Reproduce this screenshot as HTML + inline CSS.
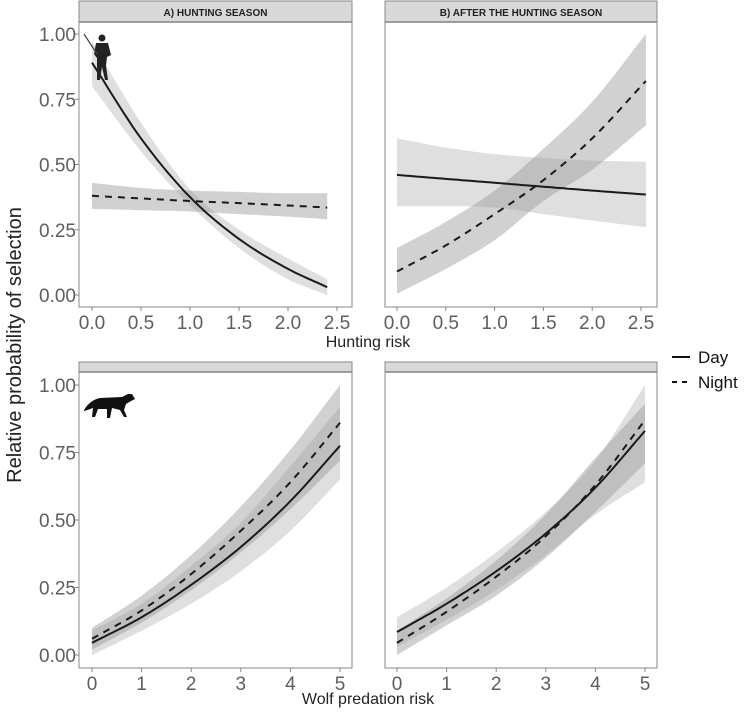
<!DOCTYPE html>
<html><head><meta charset="utf-8"><style>
body{margin:0;background:#fff;}
text{font-family:"Liberation Sans",sans-serif;}
</style></head><body>
<svg id="c" width="751" height="712" xmlns="http://www.w3.org/2000/svg"></svg>
<script>
// Hunting season (panel A)
const xA = [0, 0.5, 1.0, 1.5, 2.0, 2.4];
const dayA = [0.89, 0.60, 0.375, 0.215, 0.10, 0.03];
const dayALo = [0.80, 0.55, 0.345, 0.18, 0.06, 0.0];
const dayAHi = [0.97, 0.66, 0.405, 0.25, 0.14, 0.06];
const nightA = [0.38, 0.37, 0.36, 0.352, 0.343, 0.335];
const nightALo = [0.33, 0.325, 0.32, 0.31, 0.30, 0.29];
const nightAHi = [0.43, 0.41, 0.40, 0.395, 0.39, 0.39];
// After hunting season (panel B)
const xB = [0, 0.5, 1.0, 1.5, 2.0, 2.55];
const dayB = [0.46, 0.445, 0.43, 0.415, 0.40, 0.385];
const dayBLo = [0.34, 0.34, 0.335, 0.31, 0.285, 0.26];
const dayBHi = [0.60, 0.565, 0.54, 0.525, 0.515, 0.51];
const nightB = [0.09, 0.19, 0.31, 0.44, 0.60, 0.82];
const nightBLo = [0.005, 0.10, 0.21, 0.36, 0.48, 0.65];
const nightBHi = [0.18, 0.28, 0.40, 0.56, 0.74, 1.0];
// Wolf predation, hunting season (panel C)
const xW = [0, 1, 2, 3, 4, 5];
const dayC = [0.045, 0.14, 0.26, 0.40, 0.57, 0.775];
const dayCLo = [0.0, 0.09, 0.19, 0.31, 0.46, 0.65];
const dayCHi = [0.09, 0.19, 0.33, 0.49, 0.70, 0.92];
const nightC = [0.06, 0.165, 0.30, 0.46, 0.64, 0.86];
const nightCLo = [0.02, 0.12, 0.24, 0.38, 0.54, 0.72];
const nightCHi = [0.10, 0.22, 0.37, 0.55, 0.76, 1.0];
// Wolf predation, after hunting season (panel D)
const dayD = [0.085, 0.19, 0.31, 0.45, 0.62, 0.83];
const dayDLo = [0.03, 0.13, 0.24, 0.37, 0.52, 0.64];
const dayDHi = [0.14, 0.25, 0.38, 0.53, 0.72, 1.0];
const nightD = [0.045, 0.16, 0.29, 0.44, 0.63, 0.87];
const nightDLo = [0.0, 0.11, 0.22, 0.36, 0.53, 0.71];
const nightDHi = [0.09, 0.21, 0.35, 0.52, 0.73, 0.93];
const yTicks = [0, 0.25, 0.5, 0.75, 1.0];
const yTickLabels = ["0.00", "0.25", "0.50", "0.75", "1.00"];
const xTicksH = [0, 0.5, 1.0, 1.5, 2.0, 2.5];
const xTickLabelsH = ["0.0", "0.5", "1.0", "1.5", "2.0", "2.5"];
const xTicksW = [0, 1, 2, 3, 4, 5];
const xTickLabelsW = ["0", "1", "2", "3", "4", "5"];

const svg = document.getElementById('c');
const NS = 'http://www.w3.org/2000/svg';
function mk(tag, at, parent) {
  const e = document.createElementNS(NS, tag);
  for (const k in at) e.setAttribute(k, at[k]);
  (parent || svg).appendChild(e);
  return e;
}
function pathFrom(xs, ys, sx, sy) {
  return xs.map((x, i) => (i ? 'L' : 'M') + sx(x).toFixed(1) + ',' + sy(ys[i]).toFixed(1)).join('');
}
// monotone cubic (Fritsch-Carlson) resampling for smooth drawing
function smooth(xs, ys, n) {
  const m = xs.length, d = [], t = [];
  for (let i = 0; i < m - 1; i++) d.push((ys[i + 1] - ys[i]) / (xs[i + 1] - xs[i]));
  t[0] = d[0]; t[m - 1] = d[m - 2];
  for (let i = 1; i < m - 1; i++) t[i] = (d[i - 1] * d[i] <= 0) ? 0 : (d[i - 1] + d[i]) / 2;
  for (let i = 0; i < m - 1; i++) {
    if (d[i] === 0) { t[i] = 0; t[i + 1] = 0; continue; }
    const a = t[i] / d[i], b = t[i + 1] / d[i], s = a * a + b * b;
    if (s > 9) { const k = 3 / Math.sqrt(s); t[i] = k * a * d[i]; t[i + 1] = k * b * d[i]; }
  }
  const ox = [], oy = [];
  for (let i = 0; i < m - 1; i++) {
    const h = xs[i + 1] - xs[i];
    for (let k = 0; k < n; k++) {
      const u = k / n, u2 = u * u, u3 = u2 * u;
      oy.push((2 * u3 - 3 * u2 + 1) * ys[i] + (u3 - 2 * u2 + u) * h * t[i] + (-2 * u3 + 3 * u2) * ys[i + 1] + (u3 - u2) * h * t[i + 1]);
      ox.push(xs[i] + h * u);
    }
  }
  ox.push(xs[m - 1]); oy.push(ys[m - 1]);
  return [ox, oy];
}

function panel(cfg) {
  const g = mk('g', {});
  
  
  const sx = v => cfg.x0 + v * (cfg.x1 - cfg.x0) / cfg.xmax;
  const sy = v => cfg.y0 - v * (cfg.y0 - cfg.y1);
  const st = mk('rect', {x: cfg.L, y: cfg.sT, width: cfg.R - cfg.L, height: cfg.sB - cfg.sT, fill: '#d9d9d9', stroke: '#8a8a8a', 'stroke-width': 1}, g);
  
  
  mk('line', {x1: cfg.L, x2: cfg.R, y1: cfg.sB, y2: cfg.sB, stroke: '#777', 'stroke-width': 1.5}, g);
  if (cfg.title) {
    const t = mk('text', {x: (cfg.L + cfg.R) / 2, y: cfg.sT + 15, 'text-anchor': 'middle', 'font-size': 10, 'font-weight': 'bold', fill: '#222'}, g);
    t.textContent = cfg.title;
    
    
  }
  cfg.series.forEach(s => {
    const [lx, lo] = smooth(s.x, s.lo, 12), [hx, hi] = smooth(s.x, s.hi, 12);
    const d = pathFrom(hx, hi, sx, sy) + pathFrom(lx.slice().reverse(), lo.slice().reverse(), sx, sy).replace('M', 'L') + 'Z';
    const r = mk('path', {d: d, fill: s.fill, 'fill-opacity': 0.45}, g);
    
    
  });
  cfg.series.forEach(s => {
    const [mx, my] = smooth(s.x, s.y, 12);
    const l = mk('path', {d: pathFrom(mx, my, sx, sy), fill: 'none', stroke: '#1a1a1a', 'stroke-width': 2, 'stroke-dasharray': s.dash ? '7,6' : 'none'}, g);
    
    
  });
  mk('rect', {x: cfg.L, y: cfg.sB, width: cfg.R - cfg.L, height: cfg.B - cfg.sB, fill: 'none', stroke: '#8a8a8a', 'stroke-width': 1}, g);
  cfg.xt.forEach((v, i) => {
    mk('line', {x1: sx(v), x2: sx(v), y1: cfg.B, y2: cfg.B + 4, stroke: '#888'}, g);
    const t = mk('text', {x: sx(v), y: cfg.B + 22, 'text-anchor': 'middle', 'font-size': 19, fill: '#5e5e5e'}, g);
    t.textContent = cfg.xl[i];
    
    
  });
  if (cfg.yaxis) {
    yTicks.forEach((v, i) => {
      mk('line', {x1: cfg.L - 4, x2: cfg.L, y1: sy(v), y2: sy(v), stroke: '#888'}, g);
      const t = mk('text', {x: cfg.L - 3, y: sy(v) + 7, 'text-anchor': 'end', 'font-size': 19, fill: '#5e5e5e'}, g);
      t.textContent = yTickLabels[i];
      
      
    });
  }
}

const light = '#b8b8b8', dark = '#9a9a9a';
panel({name: 'panel-hunting-season', L: 79, R: 352, sT: 1, sB: 22, B: 307, x0: 92, x1: 337, xmax: 2.5, y0: 295, y1: 34,
  title: 'A) HUNTING SEASON', yaxis: true, xt: xTicksH, xl: xTickLabelsH,
  series: [{label: 'day', x: xA, y: dayA, lo: dayALo, hi: dayAHi, fill: light},
           {label: 'night', x: xA, y: nightA, lo: nightALo, hi: nightAHi, fill: dark, dash: true}]});
panel({name: 'panel-after-hunting', L: 385, R: 657, sT: 1, sB: 22, B: 307, x0: 397, x1: 641, xmax: 2.5, y0: 295, y1: 34,
  title: 'B) AFTER THE HUNTING SEASON', yaxis: false, xt: xTicksH, xl: xTickLabelsH,
  series: [{label: 'day', x: xB, y: dayB, lo: dayBLo, hi: dayBHi, fill: light},
           {label: 'night', x: xB, y: nightB, lo: nightBLo, hi: nightBHi, fill: dark, dash: true}]});
panel({name: 'panel-wolf-hunting', L: 79, R: 352, sT: 362, sB: 372, B: 668, x0: 92, x1: 340, xmax: 5, y0: 655, y1: 385,
  title: '', yaxis: true, xt: xTicksW, xl: xTickLabelsW,
  series: [{label: 'day', x: xW, y: dayC, lo: dayCLo, hi: dayCHi, fill: light},
           {label: 'night', x: xW, y: nightC, lo: nightCLo, hi: nightCHi, fill: dark, dash: true}]});
panel({name: 'panel-wolf-after', L: 385, R: 657, sT: 362, sB: 372, B: 668, x0: 397, x1: 645, xmax: 5, y0: 655, y1: 385,
  title: '', yaxis: false, xt: xTicksW, xl: xTickLabelsW,
  series: [{label: 'day', x: xW, y: dayD, lo: dayDLo, hi: dayDHi, fill: light},
           {label: 'night', x: xW, y: nightD, lo: nightDLo, hi: nightDHi, fill: dark, dash: true}]});

let t = mk('text', {x: 368, y: 347, 'text-anchor': 'middle', 'font-size': 16, fill: '#222'});
t.textContent = 'Hunting risk';


t = mk('text', {x: 368, y: 704, 'text-anchor': 'middle', 'font-size': 16, fill: '#222'});
t.textContent = 'Wolf predation risk';


t = mk('text', {x: 0, y: 0, 'text-anchor': 'middle', 'font-size': 20, fill: '#222', transform: 'translate(21,345) rotate(-90)'});
t.textContent = 'Relative probability of selection';



const lg = mk('g', {});


mk('line', {x1: 672, x2: 690, y1: 357, y2: 357, stroke: '#111', 'stroke-width': 2}, lg);
mk('line', {x1: 672, x2: 690, y1: 382, y2: 382, stroke: '#111', 'stroke-width': 2, 'stroke-dasharray': '5,5'}, lg);
t = mk('text', {x: 698, y: 363, 'font-size': 17, fill: '#111'}, lg);
t.textContent = 'Day';


t = mk('text', {x: 698, y: 388, 'font-size': 17, fill: '#111'}, lg);
t.textContent = 'Night';



const hunter = mk('g', {fill: '#222'});


mk('circle', {cx: 102, cy: 38, r: 3.5}, hunter);
mk('path', {d: 'M96,43 L108,43 L111,55 L107,57 L106,66 L108,80 L105,80 L102,67 L100,80 L97,80 L97,58 L94,54 Z'}, hunter);
mk('line', {x1: 84, y1: 34, x2: 97, y2: 54, stroke: '#444', 'stroke-width': 1.2}, hunter);
const wolf = mk('g', {fill: '#111'});


mk('path', {d: 'M84,410 Q90,400 100,398 L122,397 L128,394 L132,394 L135,399 L131,401 L126,404 L124,410 L127,417 L124,417 L120,410 L112,408 L110,418 L107,418 L107,409 L98,409 L95,417 L92,417 L93,408 Q88,410 84,411 Z'}, wolf);
</script>
</body></html>
